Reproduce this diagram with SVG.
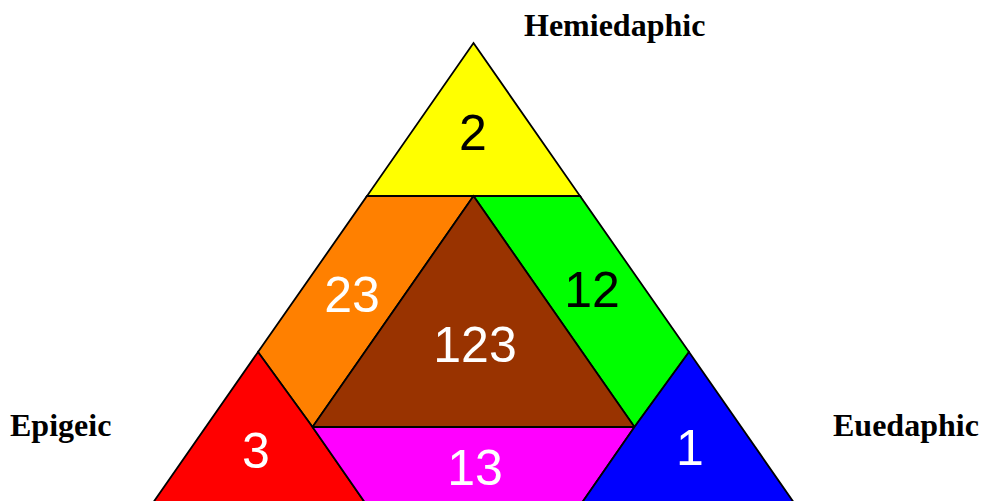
<svg xmlns="http://www.w3.org/2000/svg" width="984" height="501" viewBox="0 0 984 501">
<style>
.r{stroke:#000;stroke-width:1.8;stroke-linejoin:miter}
.n{font-family:"Liberation Sans",Arial,sans-serif;font-size:50px;text-anchor:middle}
.w{fill:#fff}
.b{fill:#000}
.lab{font-family:"Liberation Serif","Times New Roman",serif;font-weight:bold;font-size:32px;fill:#000}
</style>
<rect width="984" height="501" fill="#fff"/>
<g id="n2"><polygon class="r" fill="#ffff00" points="473.5,43 580,196 367,196"/><text class="n b" x="473" y="150">2</text></g>
<g id="n23"><polygon class="r" fill="#ff8000" points="367,196 473.5,196 312.5,427 258,352"/><text class="n w" x="352" y="312">23</text></g>
<g id="n12"><polygon class="r" fill="#00ff00" points="473.5,196 580,196 689,352 634.5,427"/><text class="n b" x="592" y="307">12</text></g>
<g id="n123"><polygon class="r" fill="#993300" points="473.5,196 634.5,427 312.5,427"/><text class="n w" x="475" y="362">123</text></g>
<g id="n3"><polygon class="r" fill="#ff0000" points="258,352 312.5,427 377,520 141,520"/><text class="n w" x="256" y="468">3</text></g>
<g id="n13"><polygon class="r" fill="#ff00ff" points="312.5,427 634.5,427 570,520 377,520"/><text class="n w" x="475" y="485">13</text></g>
<g id="n1"><polygon class="r" fill="#0000ff" points="689,352 806,520 570,520 634.5,427"/><text class="n w" x="690" y="465">1</text></g>
<g id="labels">
<text class="lab" x="524" y="36">Hemiedaphic</text>
<text class="lab" x="10" y="436">Epigeic</text>
<text class="lab" x="833" y="436">Euedaphic</text>
</g>
</svg>
